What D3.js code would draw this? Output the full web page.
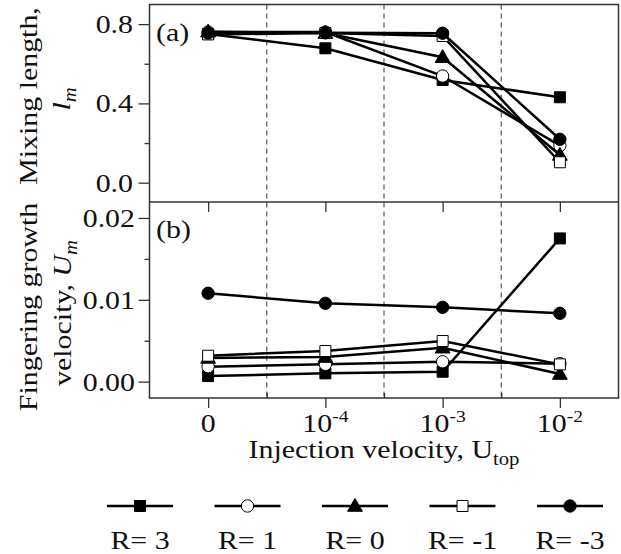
<!DOCTYPE html>
<html><head><meta charset="utf-8">
<script src="https://cdn.jsdelivr.net/npm/d3@7"></script>
<style>
body{margin:0;background:#fff}
svg{display:block}
text{font-family:"Liberation Serif","Times New Roman",serif;fill:#111}
</style></head>
<body><svg id="c" width="621" height="554"></svg>
<script>
// ---- data ----
const categories = [0, 1, 2, 3];
const xTickBase = ["0", "10", "10", "10"];
const xTickExp = ["", "-4", "-3", "-2"];
const seriesNames = ["R= 3", "R= 1", "R= 0", "R= -1", "R= -3"];
const markerShapes = ["square", "circle", "triangle", "square", "circle"];
const markerFilled = [true, false, true, false, true];

// panel (a): mixing length l_m
const lmR3  = [0.750, 0.678, 0.518, 0.431];
const lmR1  = [0.760, 0.760, 0.538, 0.187];
const lmR0  = [0.762, 0.755, 0.633, 0.140];
const lmRm1 = [0.748, 0.755, 0.740, 0.103];
const lmRm3 = [0.755, 0.756, 0.754, 0.219];

// panel (b): fingering growth velocity U_m
const umR3  = [0.00068, 0.00101, 0.00121, 0.01750];
const umR1  = [0.00182, 0.00211, 0.00243, 0.00220];
const umR0  = [0.00290, 0.00300, 0.00415, 0.00093];
const umRm1 = [0.00317, 0.00374, 0.00496, 0.00211];
const umRm3 = [0.01080, 0.00957, 0.00908, 0.00835];

const yTicksA = [0.0, 0.4, 0.8];
const yMinorA = [0.2, 0.6];
const yTicksB = [0.00, 0.01, 0.02];
const yMinorB = [0.005, 0.015];
const xMinor = [0.5, 1.5, 2.5];

const lmSeries = [lmR3, lmR1, lmR0, lmRm1, lmRm3];
const umSeries = [umR3, umR1, umR0, umRm1, umRm3];

// ---- layout ----
const SX = 1.15, FS = 26;
const svg = d3.select("#c");
const x = d3.scaleLinear().domain([-0.5, 3.5]).range([149.5, 618.5]);
const ya = d3.scaleLinear().domain([-0.1, 0.9]).range([202.5, 4.3]);
const yb = d3.scaleLinear().domain([-0.002, 0.022]).range([398, 201.6]);

function stext(parent, tx, ty, anchor, rot) {
  const g = parent.append("g").attr("transform",
    `translate(${tx},${ty})` + (rot ? ` rotate(${rot})` : "") + ` scale(${SX},1)`);
  return g.append("text").attr("text-anchor", anchor).attr("font-size", FS);
}

// dashed separators
svg.append("g").selectAll("line").data(xMinor).join("line")
  .attr("x1", d => x(d)).attr("x2", d => x(d))
  .attr("y1", 4.5).attr("y2", 398)
  .attr("stroke", "#555").attr("stroke-width", 1.2).attr("stroke-dasharray", "5,4");

// axes
function styleAxis(g) {
  g.select(".domain").remove();
  g.selectAll("line").attr("stroke", "#333").attr("stroke-width", 1.3);
  g.selectAll("text").remove();
}
svg.append("g").attr("transform", "translate(149.5,0)")
  .call(d3.axisLeft(ya).tickValues(yTicksA).tickSize(11)).call(styleAxis);
svg.append("g").attr("transform", "translate(149.5,0)")
  .call(d3.axisLeft(ya).tickValues(yMinorA).tickSize(5)).call(styleAxis);
svg.append("g").attr("transform", "translate(149.5,0)")
  .call(d3.axisLeft(yb).tickValues(yTicksB).tickSize(11)).call(styleAxis);
svg.append("g").attr("transform", "translate(149.5,0)")
  .call(d3.axisLeft(yb).tickValues(yMinorB).tickSize(5)).call(styleAxis);
svg.append("g").attr("transform", "translate(0,202)")
  .call(d3.axisBottom(x).tickValues(categories).tickSize(10)).call(styleAxis);
svg.append("g").attr("transform", "translate(0,398)")
  .call(d3.axisBottom(x).tickValues(categories).tickSize(10)).call(styleAxis);
svg.append("g").attr("transform", "translate(0,398)")
  .call(d3.axisTop(x).tickValues(xMinor).tickSize(5)).call(styleAxis);

// tick labels
const fA = d3.format(".1f"), fB = d3.format(".2f");
yTicksA.forEach(v => stext(svg, 133, ya(v) + 9, "end").text(fA(v)));
yTicksB.forEach(v => stext(svg, 135, yb(v) + 9, "end").text(fB(v)));
categories.forEach((c, i) => {
  const t = stext(svg, x(c), 432, "middle");
  t.append("tspan").text(xTickBase[i]);
  if (xTickExp[i]) t.append("tspan").attr("font-size", 17).attr("dy", -10).text(xTickExp[i]);
});

// frame
svg.append("rect").attr("x", 149.5).attr("y", 4.5).attr("width", 469).attr("height", 393.5)
  .attr("fill", "none").attr("stroke", "#333").attr("stroke-width", 1.5);
svg.append("line").attr("x1", 149.5).attr("x2", 618.5).attr("y1", 202).attr("y2", 202)
  .attr("stroke", "#333").attr("stroke-width", 1.5);

// series
const symType = { square: d3.symbolSquare, circle: d3.symbolCircle, triangle: d3.symbolTriangle };
const symSize = { square: 121, circle: 120, triangle: 95 };
function marker(parent, cx, cy, i) {
  const s = markerShapes[i];
  parent.append("path")
    .attr("d", d3.symbol().type(symType[s]).size(symSize[s])())
    .attr("transform", `translate(${cx},${cy + (s === "triangle" ? 1 : 0)})`)
    .attr("fill", markerFilled[i] ? "#000" : "#fff")
    .attr("stroke", "#000").attr("stroke-width", 1);
}
function drawPanel(series, y) {
  const line = d3.line().x((d, j) => x(categories[j])).y(d => y(d));
  series.forEach((vals, i) => {
    const g = svg.append("g");
    g.append("path").attr("d", line(vals)).attr("fill", "none")
      .attr("stroke", "#000").attr("stroke-width", 2.5);
    vals.forEach((v, j) => marker(g, x(categories[j]), y(v), i));
  });
}
drawPanel(lmSeries, ya);
drawPanel(umSeries, yb);

// panel labels
stext(svg, 156, 41, "start").text("(a)");
stext(svg, 156, 238, "start").text("(b)");

// x axis title
const xt = stext(svg, 384, 458, "middle");
xt.append("tspan").text("Injection velocity, U");
xt.append("tspan").attr("font-size", 18).attr("dy", 7).text("top");

// y axis titles
stext(svg, 37, 96, "middle", -90).text("Mixing length,");
const l2 = stext(svg, 70, 99, "middle", -90);
l2.append("tspan").attr("font-style", "italic").text("l");
l2.append("tspan").attr("font-style", "italic").attr("font-size", 18).attr("dy", 6).text("m");
stext(svg, 37, 307, "middle", -90).text("Fingering growth");
const v2 = stext(svg, 71, 313, "middle", -90);
v2.append("tspan").text("velocity, ");
v2.append("tspan").attr("font-style", "italic").text("U");
v2.append("tspan").attr("font-style", "italic").attr("font-size", 18).attr("dy", 6).text("m");

// legend
const leg = svg.append("g");
seriesNames.forEach((name, i) => {
  const cx = 140 + i * 107.5;
  leg.append("line").attr("x1", cx - 33).attr("x2", cx + 33).attr("y1", 506).attr("y2", 506)
    .attr("stroke", "#000").attr("stroke-width", 2.5);
  marker(leg, cx, 506, i);
  stext(leg, cx, 549, "middle").text(name);
});
</script></body></html>
